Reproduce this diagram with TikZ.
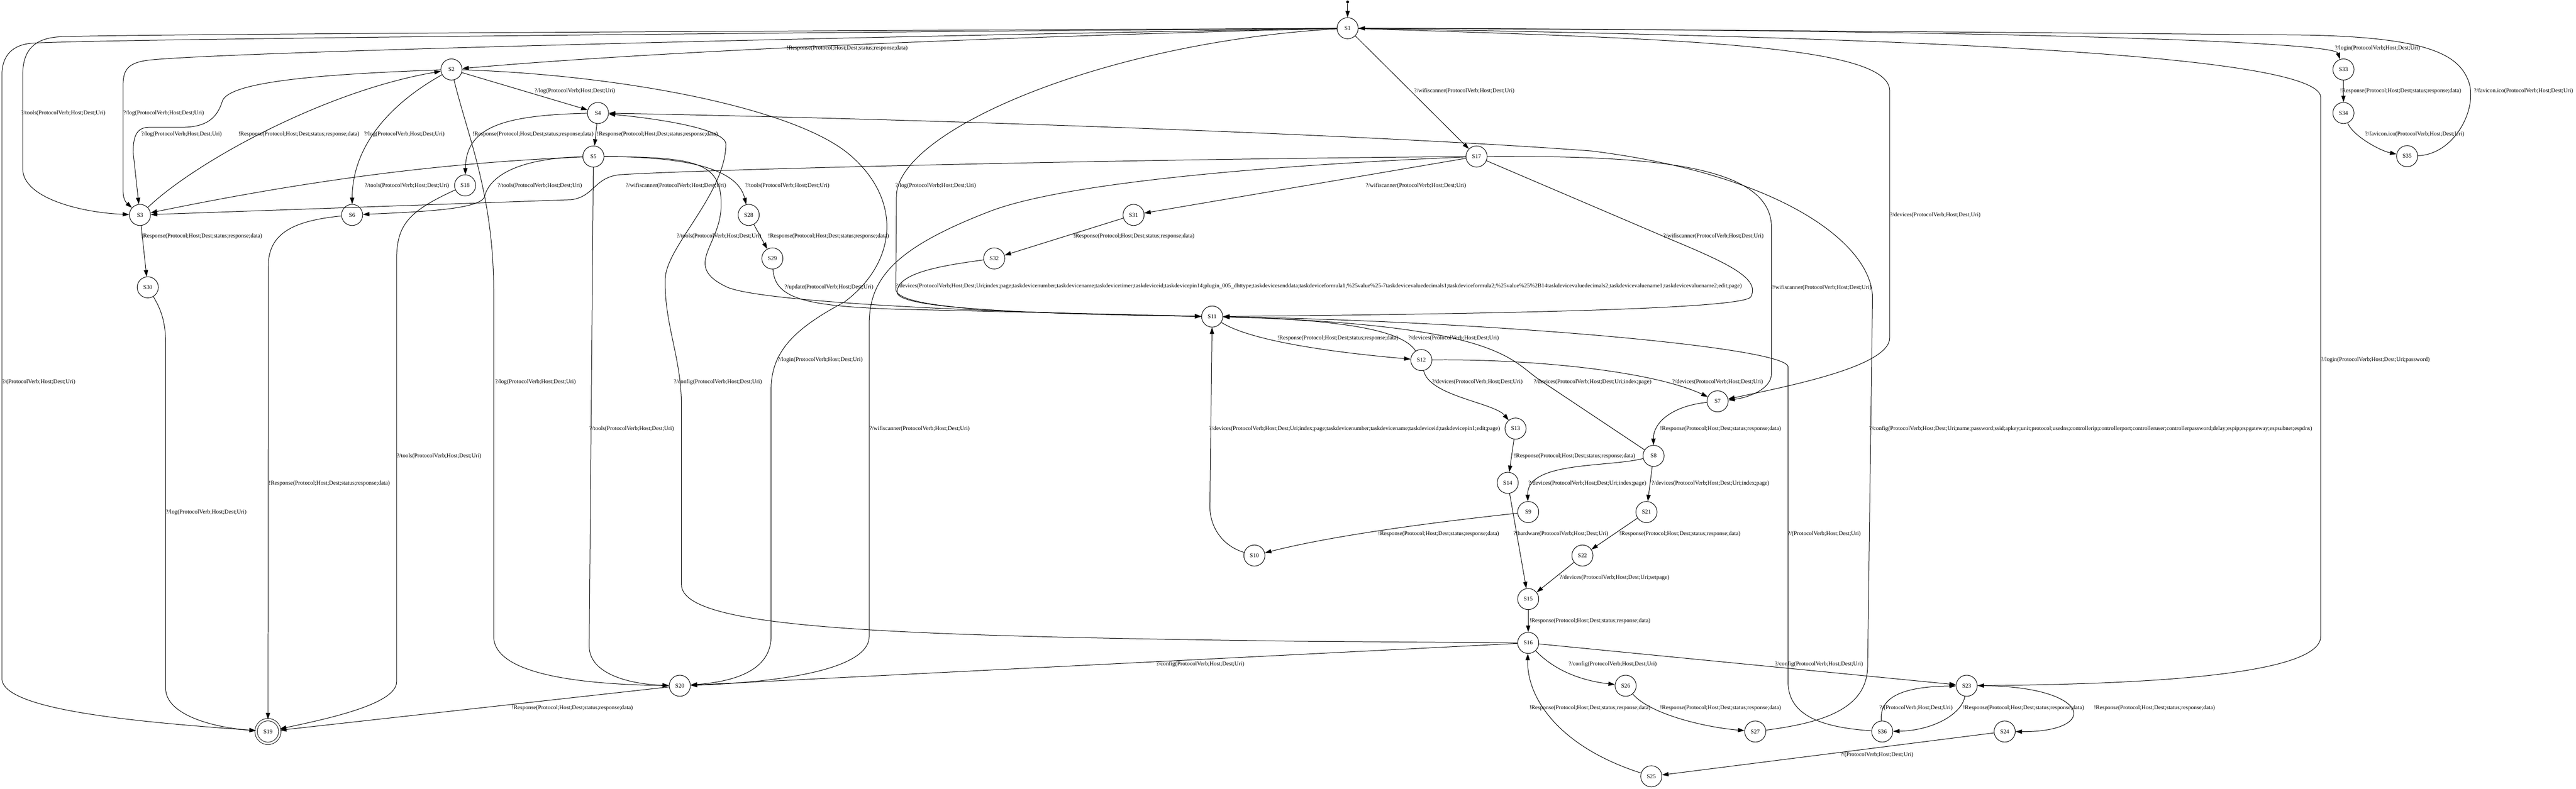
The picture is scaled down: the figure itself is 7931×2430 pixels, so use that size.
\documentclass[tikz,border=0pt]{standalone}
\usepackage{fontspec}
\setmainfont{Liberation Serif}
\usetikzlibrary{arrows.meta}
\newcommand{\req}[1]{?/#1(ProtocolVerb;Host;Dest;Uri)}
\newcommand{\resp}{!Response(Protocol;Host;Dest;status;response;data)}
\begin{document}
\begin{tikzpicture}[
    x=0.01cm, y=-0.01cm,
    snode/.style={circle, draw, line width=0.45pt, minimum size=0.65cm, inner sep=0pt, font=\fontsize{5.1}{6}\selectfont},
    final/.style={snode, double, double distance=1.6pt, minimum size=0.73cm},
    dot/.style={circle, fill, inner sep=0pt, minimum size=0.09cm},
    lab/.style={anchor=west, inner sep=0pt, font=\fontsize{5.1}{6}\selectfont},
    arrow/.style={-{Triangle[length=0.2cm, width=0.13cm]}, line width=0.45pt}
]
\useasboundingbox (0,0) rectangle (7931,2430);

% states
\node[dot] (init) at (4149,6) {};
\node[snode] (S1) at (4149,87) {S1};
\node[snode] (S2) at (1390,214) {S2};
\node[snode] (S3) at (431,662) {S3};
\node[snode] (S4) at (1841,348) {S4};
\node[snode] (S5) at (1827,482) {S5};
\node[snode] (S6) at (1084,662) {S6};
\node[snode] (S7) at (5288,1236) {S7};
\node[snode] (S8) at (5091,1404) {S8};
\node[snode] (S9) at (4705,1577) {S9};
\node[snode] (S10) at (3862,1711) {S10};
\node[snode] (S11) at (3732,975) {S11};
\node[snode] (S12) at (4376,1109) {S12};
\node[snode] (S13) at (4666,1320) {S13};
\node[snode] (S14) at (4642,1487) {S14};
\node[snode] (S15) at (4705,1845) {S15};
\node[snode] (S16) at (4705,1980) {S16};
\node[snode] (S17) at (4546,482) {S17};
\node[snode] (S18) at (1432,571) {S18};
\node[final] (S19) at (825,2253) {S19};
\node[snode] (S20) at (2093,2112) {S20};
\node[snode] (S21) at (5069,1577) {S21};
\node[snode] (S22) at (4872,1711) {S22};
\node[snode] (S23) at (6055,2112) {S23};
\node[snode] (S24) at (6172,2253) {S24};
\node[snode] (S25) at (5084,2391) {S25};
\node[snode] (S26) at (5005,2112) {S26};
\node[snode] (S27) at (5404,2253) {S27};
\node[snode] (S28) at (2305,662) {S28};
\node[snode] (S29) at (2378,796) {S29};
\node[snode] (S30) at (455,885) {S30};
\node[snode] (S31) at (3490,662) {S31};
\node[snode] (S32) at (3061,796) {S32};
\node[snode] (S33) at (7215,214) {S33};
\node[snode] (S34) at (7215,348) {S34};
\node[snode] (S35) at (7411,481) {S35};
\node[snode] (S36) at (5795,2253) {S36};

% transitions
\draw[arrow] (init) -- (S1);
\draw[arrow] (S1) .. controls (3000,115) and (2000,160) .. (S2);
\draw[arrow] (S1) .. controls (2500,95) and (400,105) .. (190,113) .. controls (110,116) and (70,150) .. (70,230) -- (70,520) .. controls (70,610) and (250,655) .. (S3);
\draw[arrow] (S1) .. controls (2500,115) and (700,160) .. (460,185) .. controls (400,192) and (379,210) .. (379,260) -- (379,590) .. controls (379,620) and (395,630) .. (S3);
\draw[arrow] (S1) .. controls (2500,100) and (300,120) .. (100,133) .. controls (40,137) and (6,170) .. (6,230) -- (6,2090) .. controls (6,2190) and (450,2225) .. (S19);
\draw[arrow] (S1) -- (S17);
\draw[arrow] (S1) .. controls (3400,130) and (2770,400) .. (2760,600) -- (2758,890) .. controls (2757,950) and (3100,965) .. (S11);
\draw[arrow] (S1) .. controls (5200,120) and (5818,140) .. (5818,280) -- (5818,1040) .. controls (5818,1130) and (5500,1190) .. (S7);
\draw[arrow] (S1) .. controls (6000,90) and (7185,125) .. (S33);
\draw[arrow] (S1) .. controls (5500,110) and (7145,150) .. (7145,300) -- (7145,1960) .. controls (7145,2090) and (6500,2108) .. (S23);
\draw[arrow] (S35) .. controls (7560,475) and (7630,330) .. (7600,250) .. controls (7570,170) and (7480,115) .. (7100,108) .. controls (6000,98) and (5000,90) .. (S1);
\draw[arrow] (S33) -- (S34);
\draw[arrow] (S34) .. controls (7245,420) and (7330,465) .. (S35);
\draw[arrow] (S2) -- (S4);
\draw[arrow] (S2) .. controls (1200,320) and (1085,450) .. (S6);
\draw[arrow] (S2) .. controls (1000,228) and (710,250) .. (685,310) .. controls (670,360) and (640,392) .. (560,392) -- (460,392) .. controls (420,392) and (410,420) .. (410,470) -- (S3);
\draw[arrow] (S2) .. controls (1440,420) and (1520,600) .. (1520,900) -- (1520,1960) .. controls (1520,2080) and (1800,2108) .. (S20);
\draw[arrow] (S2) .. controls (1900,230) and (2450,330) .. (2620,480) .. controls (2780,620) and (2760,810) .. (2600,930) .. controls (2450,1010) and (2374,1080) .. (2374,1200) -- (2374,1960) .. controls (2374,2070) and (2250,2100) .. (S20);
\draw[arrow] (S3) .. controls (600,500) and (1000,280) .. (S2);
\draw[arrow] (S3) -- (S30);
\draw[arrow] (S4) -- (S5);
\draw[arrow] (S4) .. controls (1550,355) and (1435,390) .. (S18);
\draw[arrow] (S5) .. controls (1400,500) and (1000,545) .. (S3);
\draw[arrow] (S5) .. controls (1580,488) and (1505,550) .. (1492,605) .. controls (1480,645) and (1300,652) .. (S6);
\draw[arrow] (S5) -- (1814,1990) .. controls (1814,2080) and (1950,2108) .. (S20);
\draw[arrow] (S5) .. controls (2100,483) and (2270,515) .. (S28);
\draw[arrow] (S5) .. controls (2150,484) and (2225,500) .. (2220,640) .. controls (2215,760) and (2100,820) .. (2240,885) .. controls (2350,930) and (3000,962) .. (S11);
\draw[arrow] (S6) .. controls (900,680) and (826,720) .. (826,820) -- (S19);
\draw[arrow] (S18) .. controls (1260,650) and (1221,690) .. (1221,800) -- (1221,2100) .. controls (1221,2170) and (1000,2215) .. (S19);
\draw[arrow] (S30) .. controls (500,960) and (510,1000) .. (510,1060) -- (510,2120) .. controls (510,2200) and (650,2240) .. (S19);
\draw[arrow] (S20) -- (S19);
\draw[arrow] (S17) .. controls (3500,490) and (2200,520) .. (1910,538) .. controls (1830,545) and (1830,605) .. (1760,615) -- (S3);
\draw[arrow] (S17) .. controls (4000,505) and (3300,555) .. (3050,650) .. controls (2750,765) and (2676,860) .. (2676,1000) -- (2676,1960) .. controls (2676,2080) and (2300,2105) .. (S20);
\draw[arrow] (S17) -- (S31);
\draw[arrow] (S17) .. controls (5050,480) and (5454,500) .. (5454,700) -- (5454,1150) .. controls (5454,1200) and (5380,1225) .. (S7);
\draw[arrow] (S17) -- (5150,740) .. controls (5330,815) and (5420,860) .. (5390,915) .. controls (5360,950) and (4700,966) .. (S11);
\draw[arrow] (S28) -- (S29);
\draw[arrow] (S29) .. controls (2385,920) and (2480,942) .. (2750,952) -- (S11);
\draw[arrow] (S31) -- (S32);
\draw[arrow] (S32) .. controls (2900,818) and (2762,840) .. (2762,900) .. controls (2762,950) and (3150,966) .. (S11);
\draw[arrow] (S11) .. controls (3850,1050) and (4100,1085) .. (S12);
\draw[arrow] (S12) .. controls (4320,1020) and (4150,985) .. (S11);
\draw[arrow] (S12) .. controls (4400,1220) and (4600,1240) .. (S13);
\draw[arrow] (S12) .. controls (4700,1105) and (5080,1140) .. (S7);
\draw[arrow] (S13) -- (S14);
\draw[arrow] (S14) -- (S15);
\draw[arrow] (S7) .. controls (5150,1250) and (5090,1300) .. (S8);
\draw[arrow] (S8) -- (4740,1170) .. controls (4650,1110) and (4620,1000) .. (S11);
\draw[arrow] (S8) .. controls (4950,1440) and (4700,1420) .. (S9);
\draw[arrow] (S8) -- (S21);
\draw[arrow] (S9) .. controls (4400,1610) and (4100,1650) .. (S10);
\draw[arrow] (S10) .. controls (3760,1680) and (3725,1620) .. (3725,1560) -- (S11);
\draw[arrow] (S21) -- (S22);
\draw[arrow] (S22) -- (S15);
\draw[arrow] (S15) -- (S16);
\draw[arrow] (S16) -- (4000,1975) .. controls (2700,1958) and (2098,1935) .. (2098,1800) -- (2098,1250) .. controls (2098,1100) and (2045,1000) .. (2048,860) .. controls (2050,760) and (2232,600) .. (2235,445) .. controls (2236,400) and (2050,368) .. (S4);
\draw[arrow] (S16) -- (S20);
\draw[arrow] (S16) .. controls (4800,2080) and (4900,2100) .. (S26);
\draw[arrow] (S16) -- (S23);
\draw[arrow] (S26) .. controls (5080,2200) and (5250,2240) .. (S27);
\draw[arrow] (S27) .. controls (5620,2225) and (5750,2180) .. (5750,2050) -- (5765,920) .. controls (5768,760) and (5500,540) .. (4900,465) .. controls (4300,420) and (3000,370) .. (S4);
\draw[arrow] (S23) .. controls (6440,2110) and (6470,2255) .. (S24);
\draw[arrow] (S23) .. controls (6040,2200) and (5950,2250) .. (S36);
\draw[arrow] (S36) .. controls (5786,2150) and (5850,2115) .. (S23);
\draw[arrow] (S36) .. controls (5600,2240) and (5505,2200) .. (5505,2100) -- (5505,1130) .. controls (5505,1070) and (4600,990) .. (S11);
\draw[arrow] (S24) -- (S25);
\draw[arrow] (S25) .. controls (4800,2300) and (4700,2150) .. (S16);

% transition labels
\node[lab] (t1) at (2421,148) {\resp};
\node[lab] (t2) at (64,348) {\req{tools}};
\node[lab] (t3) at (379,348) {\req{log}};
\node[lab] (t4) at (6,1176) {\req{}};
\node[lab] (t5) at (4353,281) {\req{wifiscanner}};
\node[lab] (t6) at (2756,572) {\req{log}};
\node[lab] (t7) at (5818,662) {\req{devices}};
\node[lab] (t8) at (7188,148) {\req{login}};
\node[lab] (t9) at (7616,281) {\req{favicon.ico}};
\node[lab] (t10) at (7204,281) {\resp};
\node[lab] (t11) at (7281,414) {\req{favicon.ico}};
\node[lab] (t12) at (1645,281) {\req{log}};
\node[lab] (t13) at (1120,414) {\req{log}};
\node[lab] (t14) at (434,414) {\req{log}};
\node[lab] (t15) at (1524,1176) {\req{log}};
\node[lab] (t16) at (2393,1109) {\req{login}};
\node[lab] (t17) at (733,414) {\resp};
\node[lab] (t18) at (434,728) {\resp};
\node[lab] (t19) at (1837,414) {\resp};
\node[lab] (t20) at (1454,414) {\resp};
\node[lab] (t21) at (1122,572) {\req{tools}};
\node[lab] (t22) at (1531,572) {\req{tools}};
\node[lab] (t23) at (1814,1321) {\req{tools}};
\node[lab] (t24) at (2293,572) {\req{tools}};
\node[lab] (t25) at (2083,728) {\req{tools}};
\node[lab] (t26) at (827,1489) {\resp};
\node[lab] (t27) at (1221,1405) {\req{tools}};
\node[lab] (t28) at (510,1578) {\req{log}};
\node[lab] (t29) at (1575,2181) {\resp};
\node[lab] (t30) at (1926,572) {\req{wifiscanner}};
\node[lab] (t31) at (2676,1321) {\req{wifiscanner}};
\node[lab] (t32) at (4204,572) {\req{wifiscanner}};
\node[lab] (t33) at (5452,887) {\req{wifiscanner}};
\node[lab] (t34) at (5120,728) {\req{wifiscanner}};
\node[lab] (t35) at (2364,728) {\resp};
\node[lab] (t36) at (2415,885) {\req{update}};
\node[lab] (t37) at (3304,728) {\resp};
\node[lab] (t38) at (2756,882) {?/devices(ProtocolVerb;Host;Dest;Uri;index;page;taskdevicenumber;taskdevicename;taskdevicetimer;taskdeviceid;taskdevicepin14;plugin\_005\_dhttype;taskdevicesenddata;taskdeviceformula1;\%25value\%25-7taskdevicevaluedecimals1;taskdeviceformula2;\%25value\%25\%2B14taskdevicevaluedecimals2;taskdevicevaluename1;taskdevicevaluename2;edit;page)};
\node[lab] (t39) at (3932,1042) {\resp};
\node[lab] (t40) at (4335,1042) {\req{devices}};
\node[lab] (t41) at (4408,1176) {\req{devices}};
\node[lab] (t42) at (5148,1176) {\req{devices}};
\node[lab] (t43) at (4661,1405) {\resp};
\node[lab] (t44) at (4659,1645) {\req{hardware}};
\node[lab] (t45) at (5110,1321) {\resp};
\node[lab] (t46) at (4721,1176) {?/devices(ProtocolVerb;Host;Dest;Uri;index;page)};
\node[lab] (t47) at (4705,1489) {?/devices(ProtocolVerb;Host;Dest;Uri;index;page)};
\node[lab] (t48) at (5084,1489) {?/devices(ProtocolVerb;Host;Dest;Uri;index;page)};
\node[lab] (t49) at (4242,1645) {\resp};
\node[lab] (t50) at (3722,1321) {?/devices(ProtocolVerb;Host;Dest;Uri;index;page;taskdevicenumber;taskdevicename;taskdeviceid;taskdevicepin1;edit;page)};
\node[lab] (t51) at (4985,1645) {\resp};
\node[lab] (t52) at (4801,1780) {?/devices(ProtocolVerb;Host;Dest;Uri;setpage)};
\node[lab] (t53) at (4708,1913) {\resp};
\node[lab] (t54) at (2074,1176) {\req{config}};
\node[lab] (t55) at (3559,2046) {\req{config}};
\node[lab] (t56) at (4829,2046) {\req{config}};
\node[lab] (t57) at (5464,2046) {\req{config}};
\node[lab] (t58) at (5110,2181) {\resp};
\node[lab] (t59) at (5754,1321) {?/config(ProtocolVerb;Host;Dest;Uri;name;password;ssid;apkey;unit;protocol;usedns;controllerip;controllerport;controlleruser;controllerpassword;delay;espip;espgateway;espsubnet;espdns)};
\node[lab] (t60) at (6446,2181) {\resp};
\node[lab] (t61) at (6043,2181) {\resp};
\node[lab] (t62) at (5786,2181) {\req{}};
\node[lab] (t63) at (5503,1645) {\req{}};
\node[lab] (t64) at (5665,2325) {\req{}};
\node[lab] (t65) at (4708,2181) {\resp};
\node[lab] (t66) at (7145,1109) {?/login(ProtocolVerb;Host;Dest;Uri;password)};

\end{tikzpicture}
\end{document}
